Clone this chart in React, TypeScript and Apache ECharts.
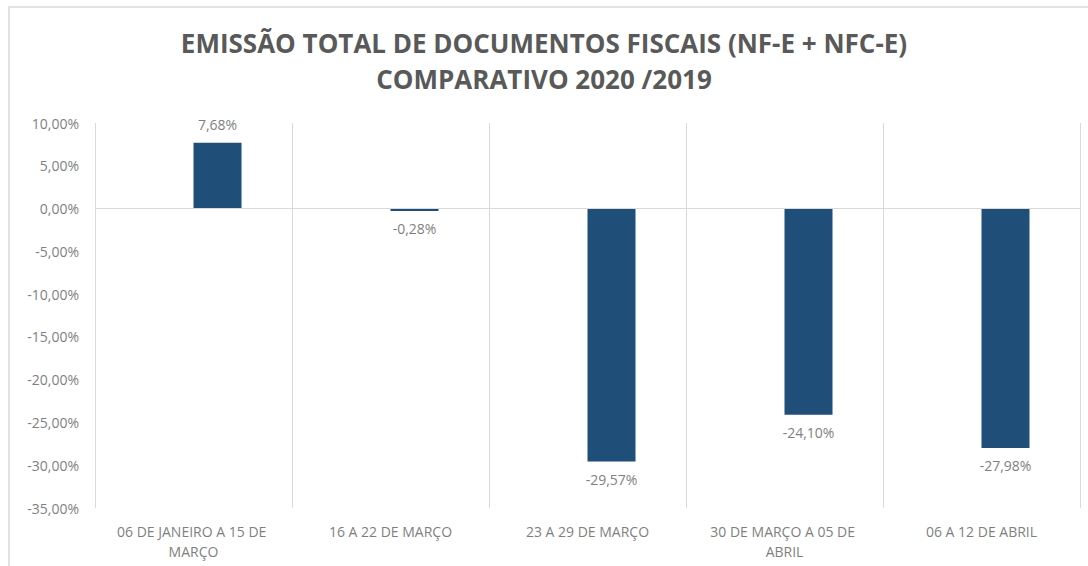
import React, { useEffect, useRef } from "react";
import * as echarts from "echarts";

const categories = [
  "06 DE JANEIRO A 15 DE MARÇO",
  "16 A 22 DE MARÇO",
  "23 A 29 DE MARÇO",
  "30 DE MARÇO A 05 DE ABRIL",
  "06 A 12 DE ABRIL",
];
const values = [7.68, -0.28, -29.57, -24.1, -27.98];
const emptySeries = [null, null, null, null, null];
const titleLine1 = "EMISSÃO TOTAL DE DOCUMENTOS FISCAIS (NF-E + NFC-E)";
const titleLine2 = "COMPARATIVO 2020 /2019";

const fmt = (v: number) => v.toFixed(2).replace(".", ",") + "%";

const titleStyle = {
  fontFamily: "Open Sans",
  fontWeight: "bold",
  fontSize: 26,
  lineHeight: 30,
  color: "#595959",
};

export default function App() {
  const ref = useRef<HTMLDivElement>(null);
  useEffect(() => {
    if (!ref.current) return;
    const chart = echarts.init(ref.current, null, { renderer: "svg" });
    chart.setOption({
      animation: false,
      backgroundColor: "#ffffff",
      title: [
        { text: titleLine1, left: "center", top: 28, padding: 0, textStyle: titleStyle },
        { text: titleLine2, left: "center", top: 64, padding: 0, textStyle: titleStyle },
      ],
      graphic: [
        {
          type: "polyline",
          shape: { points: [[9, 566], [9, 7], [1088, 7]] },
          style: { stroke: "#e2e2e2", lineWidth: 2, fill: "none" },
          silent: true,
        },
      ],
      grid: { left: 95, right: 8, top: 123, bottom: 58 },
      xAxis: {
        type: "category",
        data: categories,
        position: "bottom",
        axisLine: { show: false, onZero: false },
        axisTick: { show: false },
        splitLine: { show: true, lineStyle: { color: "#d9d9d9", width: 1 } },
        axisLabel: {
          interval: 0,
          margin: 13,
          fontFamily: "Open Sans",
          fontSize: 14,
          lineHeight: 20,
          color: "#7f7f7f",
          width: 165,
          overflow: "break",
        },
      },
      yAxis: {
        type: "value",
        min: -35,
        max: 10,
        interval: 5,
        axisLine: { show: false },
        axisTick: { show: false },
        splitLine: { show: false },
        axisLabel: {
          margin: 16,
          fontFamily: "Open Sans",
          fontSize: 14,
          color: "#7f7f7f",
          formatter: (v: number) => fmt(v),
        },
      },
      series: [
        {
          type: "bar",
          data: emptySeries,
          barWidth: 48,
          barGap: "0%",
          itemStyle: { color: "#1f4e79" },
        },
        {
          type: "bar",
          barWidth: 48,
          barGap: "0%",
          itemStyle: { color: "#1f4e79" },
          data: values.map((v) => ({
            value: v,
            label: { position: v >= 0 ? "top" : "bottom" },
          })),
          label: {
            show: true,
            distance: 11,
            fontFamily: "Open Sans",
            fontSize: 14,
            color: "#7f7f7f",
            formatter: (p: any) => fmt(p.value),
          },
          markLine: {
            silent: true,
            symbol: "none",
            label: { show: false },
            lineStyle: { color: "#d9d9d9", type: "solid", width: 1 },
            data: [{ yAxis: 0 }],
          },
        },
      ],
    });
    return () => chart.dispose();
  }, []);
  return (
    <div
      ref={ref}
      style={{ position: "absolute", left: 0, top: 0, width: 1088, height: 566 }}
    />
  );
}
